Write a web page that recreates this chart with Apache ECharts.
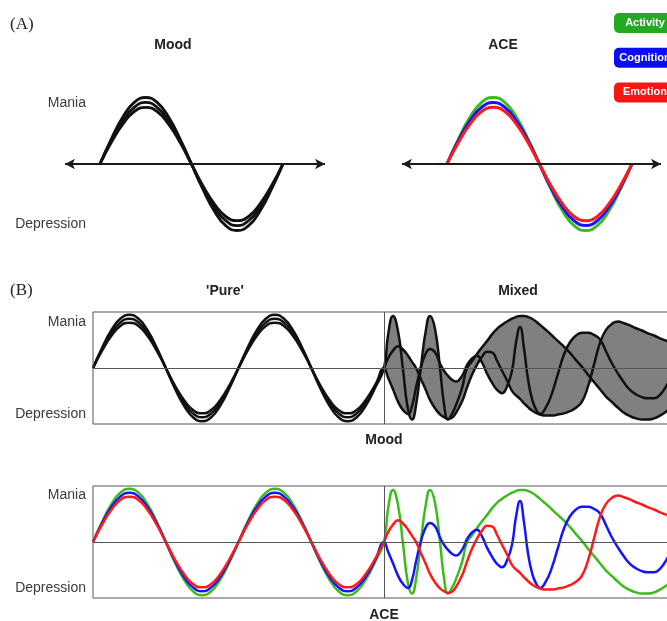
<!DOCTYPE html>
<html>
<head>
<meta charset="utf-8">
<script src="https://cdn.jsdelivr.net/npm/echarts@6/dist/echarts.min.js"></script>
<style>
  html, body { margin: 0; padding: 0; background: #fff; }
  #chart { width: 667px; height: 621px; }
</style>
</head>
<body>
<div id="chart"></div>
<script>
// one idealised cycle (panel A), in fractions of a period
const cycleX = [0, 0.0625, 0.125, 0.1875, 0.25, 0.3125, 0.375, 0.4375, 0.5, 0.5625, 0.625, 0.6875, 0.75, 0.8125, 0.875, 0.9375, 1]
const cycleActivity = [0, 0.36, 0.67, 0.88, 0.95, 0.88, 0.67, 0.36, 0, -0.36, -0.67, -0.88, -0.95, -0.88, -0.67, -0.36, 0]
const cycleCognition = [0, 0.34, 0.62, 0.81, 0.88, 0.81, 0.62, 0.34, 0, -0.34, -0.62, -0.81, -0.88, -0.81, -0.62, -0.34, 0]
const cycleEmotion = [0, 0.31, 0.57, 0.75, 0.81, 0.75, 0.57, 0.31, 0, -0.31, -0.57, -0.75, -0.81, -0.75, -0.57, -0.31, 0]

// panel B time axis: two 'pure' cycles then the mixed episode
const pureTime = [0, 9.1, 18.2, 27.3, 36.4, 45.5, 54.6, 63.7, 72.8, 81.8, 90.9, 100.0, 109.1, 118.2, 127.3, 136.4,
  145.5, 154.6, 163.7, 172.8, 181.9, 191.0, 200.1, 209.2, 218.3, 227.3, 236.4, 245.5, 254.6, 263.7, 272.8, 281.9]
const pureActivity = [0, 0.36, 0.67, 0.88, 0.95, 0.88, 0.67, 0.36, 0, -0.36, -0.67, -0.88, -0.95, -0.88, -0.67, -0.36,
  0, 0.36, 0.67, 0.88, 0.95, 0.88, 0.67, 0.36, 0, -0.36, -0.67, -0.88, -0.95, -0.88, -0.67, -0.36]
const pureCognition = [0, 0.34, 0.62, 0.81, 0.88, 0.81, 0.62, 0.34, 0, -0.34, -0.62, -0.81, -0.88, -0.81, -0.62, -0.34,
  0, 0.34, 0.62, 0.81, 0.88, 0.81, 0.62, 0.34, 0, -0.34, -0.62, -0.81, -0.88, -0.81, -0.62, -0.34]
const pureEmotion = [0, 0.31, 0.57, 0.75, 0.81, 0.75, 0.57, 0.31, 0, -0.31, -0.57, -0.75, -0.81, -0.75, -0.57, -0.31,
  0, 0.31, 0.57, 0.75, 0.81, 0.75, 0.57, 0.31, 0, -0.31, -0.57, -0.75, -0.81, -0.75, -0.57, -0.31]

const mixedTime = [291, 295, 300, 305, 310, 315, 319, 323, 328, 333, 337, 342, 347, 351, 355, 359, 363, 369, 374, 379,
  384, 389, 394, 399, 404, 409, 414, 419, 423, 427, 431, 435, 439, 443, 447, 453, 459, 465, 471, 477,
  483, 489, 495, 501, 507, 513, 519, 525, 531, 537, 543, 549, 555, 561, 567, 574, 582]
const mixedActivity = [0, 0.58, 0.93, 0.66, -0.03, -0.74, -0.92, -0.67, 0.03, 0.69, 0.93, 0.70, 0, -0.64, -0.92, -0.82, -0.66, -0.36, 0, 0.12,
  0.25, 0.37, 0.48, 0.60, 0.70, 0.77, 0.83, 0.88, 0.91, 0.93, 0.93, 0.91, 0.88, 0.83, 0.77, 0.68, 0.58, 0.48, 0.38, 0.27,
  0.14, 0.02, -0.12, -0.25, -0.38, -0.51, -0.61, -0.71, -0.80, -0.86, -0.90, -0.92, -0.92, -0.90, -0.85, -0.77, -0.66]
const mixedCognition = [0, -0.17, -0.38, -0.60, -0.75, -0.82, -0.68, -0.35, 0.02, 0.27, 0.34, 0.28, 0.08, -0.05, -0.14, -0.21, -0.24, -0.14, 0.05, 0.17,
  0.22, 0.10, -0.10, -0.26, -0.39, -0.45, -0.33, -0.05, 0.45, 0.73, 0.35, -0.20, -0.55, -0.74, -0.82, -0.70, -0.45, -0.10, 0.24, 0.46,
  0.58, 0.63, 0.63, 0.59, 0.51, 0.30, 0.08, -0.10, -0.26, -0.39, -0.47, -0.52, -0.54, -0.54, -0.48, -0.30, -0.05]
const mixedEmotion = [0, 0.17, 0.31, 0.39, 0.33, 0.22, 0.11, 0, -0.20, -0.40, -0.57, -0.72, -0.83, -0.88, -0.91, -0.89, -0.80, -0.60, -0.35, -0.12,
  0.06, 0.20, 0.29, 0.28, 0.13, -0.05, -0.22, -0.41, -0.49, -0.55, -0.63, -0.70, -0.76, -0.80, -0.83, -0.85, -0.85, -0.83, -0.81, -0.77,
  -0.71, -0.60, -0.33, 0.06, 0.45, 0.68, 0.79, 0.83, 0.80, 0.76, 0.71, 0.67, 0.62, 0.58, 0.53, 0.48, 0.42]

const yLabels = ['Depression', 'Mania']
const legendNames = ['Activity', 'Cognition', 'Emotion']
const colors = ['#3cbc1c', '#1414ff', '#ff1a1a']
const buttonColors = ['#22aa22', '#0c0cf2', '#f51616']

const time = pureTime.concat(mixedTime)
const activity = pureActivity.concat(mixedActivity)
const cognition = pureCognition.concat(mixedCognition)
const emotion = pureEmotion.concat(mixedEmotion)

const zip = (xs, ys) => xs.map((x, i) => [x, ys[i]])

// upper / lower envelope of the three curves during the mixed episode
const envHigh = mixedTime.map((t, i) => [t, Math.max(mixedActivity[i], mixedCognition[i], mixedEmotion[i])])
const envLow = mixedTime.map((t, i) => [t, Math.min(mixedActivity[i], mixedCognition[i], mixedEmotion[i])])

const font = '"Liberation Sans", Arial, sans-serif'

const arrowLine = {
  silent: true,
  symbol: ['arrow', 'arrow'],
  symbolSize: [8, 10],
  label: {show: false},
  lineStyle: {color: '#1a1a1a', width: 2, type: 'solid'},
  data: [{yAxis: 0}]
}
const boxLines = {
  silent: true,
  symbol: ['none', 'none'],
  label: {show: false},
  lineStyle: {color: '#555', width: 1, type: 'solid'},
  data: [{yAxis: 0}, {xAxis: 291}]
}

const yAxisFor = (gridIndex, pos, offset) => ({
  type: 'value', gridIndex, min: -1, max: 1, offset: offset || 0,
  axisLine: {show: false}, axisTick: {show: false}, splitLine: {show: false},
  axisLabel: {
    show: pos != null, margin: 7, color: '#3a3a3a', fontSize: 14, fontFamily: font,
    customValues: pos || [],
    formatter: v => v > 0 ? yLabels[1] : yLabels[0]
  }
})

const line = (xi, data, color, width, extra) => Object.assign({
  type: 'line', xAxisIndex: xi, yAxisIndex: xi, data, smooth: true, symbol: 'none',
  lineStyle: {color, width}, silent: true
}, extra || {})

const option = {
  animation: false,
  grid: [
    {left: 65, top: 94, width: 260, height: 140, outerBoundsMode: 'none'},
    {left: 402, top: 94, width: 259, height: 140, outerBoundsMode: 'none'},
    {left: 93, top: 312, width: 590, height: 112, show: true, borderColor: '#555', borderWidth: 1, z: 5, outerBoundsMode: 'none'},
    {left: 93, top: 486, width: 590, height: 112, show: true, borderColor: '#555', borderWidth: 1, z: 5, outerBoundsMode: 'none'}
  ],
  xAxis: [
    {type: 'value', gridIndex: 0, min: -0.191, max: 1.230, show: false},
    {type: 'value', gridIndex: 1, min: -0.243, max: 1.157, show: false},
    {type: 'value', gridIndex: 2, min: 0, max: 590, show: false},
    {type: 'value', gridIndex: 3, min: 0, max: 590, show: false}
  ],
  yAxis: [
    yAxisFor(0, [-0.86, 0.87], -28),
    yAxisFor(1, null),
    yAxisFor(2, [-0.82, 0.82]),
    yAxisFor(3, [-0.82, 0.84])
  ],
  graphic: [
    {type: 'text', style: {text: '(A)', x: 10, y: 25, verticalAlign: 'middle', font: '17px "Liberation Serif", serif', fill: '#222'}},
    {type: 'text', style: {text: 'Mood', x: 173, y: 45, align: 'center', verticalAlign: 'middle', font: 'bold 14px ' + font, fill: '#222'}},
    {type: 'text', style: {text: 'ACE', x: 503, y: 45, align: 'center', verticalAlign: 'middle', font: 'bold 14px ' + font, fill: '#222'}},
    {type: 'text', style: {text: '(B)', x: 10, y: 291, verticalAlign: 'middle', font: '17px "Liberation Serif", serif', fill: '#222'}},
    {type: 'text', style: {text: "'Pure'", x: 225, y: 291, align: 'center', verticalAlign: 'middle', font: 'bold 14px ' + font, fill: '#222'}},
    {type: 'text', style: {text: 'Mixed', x: 518, y: 291, align: 'center', verticalAlign: 'middle', font: 'bold 14px ' + font, fill: '#222'}},
    {type: 'text', style: {text: 'Mood', x: 384, y: 440, align: 'center', verticalAlign: 'middle', font: 'bold 14px ' + font, fill: '#222'}},
    {type: 'text', style: {text: 'ACE', x: 384, y: 615, align: 'center', verticalAlign: 'middle', font: 'bold 14px ' + font, fill: '#222'}}
  ].concat(legendNames.map((name, i) => ({
    type: 'group', left: 614, top: 13 + i * 34.7,
    children: [
      {type: 'rect', shape: {x: 0, y: 0, width: 62, height: 20, r: 5}, style: {fill: buttonColors[i]}},
      {type: 'text', style: {text: name, x: 31, y: 10, align: 'center', verticalAlign: 'middle', font: 'bold 11px ' + font, fill: '#fff'}}
    ]
  }))),
  series: [
    // A: mood
    line(0, zip(cycleX, cycleActivity), '#111', 2.8, {markLine: arrowLine}),
    line(0, zip(cycleX, cycleCognition), '#111', 2.8),
    line(0, zip(cycleX, cycleEmotion), '#111', 2.8),
    // A: ACE
    line(1, zip(cycleX, cycleActivity), colors[0], 3, {markLine: arrowLine}),
    line(1, zip(cycleX, cycleCognition), colors[1], 3),
    line(1, zip(cycleX, cycleEmotion), colors[2], 3),
    // B: mood, grey band = area under the upper envelope, masked white under the lower one
    line(2, envHigh, '#808080', 0, {lineStyle: {opacity: 0}, areaStyle: {color: '#808080', opacity: 1, origin: 'start'}}),
    line(2, envLow, '#fff', 0, {lineStyle: {opacity: 0}, areaStyle: {color: '#fff', opacity: 1, origin: 'start'}}),
    line(2, zip(time, activity), '#111', 2.5, {markLine: boxLines}),
    line(2, zip(time, cognition), '#111', 2.5),
    line(2, zip(time, emotion), '#111', 2.5),
    // B: ACE
    line(3, zip(time, activity), colors[0], 2.5, {markLine: boxLines}),
    line(3, zip(time, cognition), colors[1], 2.5),
    line(3, zip(time, emotion), colors[2], 2.5)
  ]
}

const chart = echarts.init(document.getElementById('chart'))
chart.setOption(option)
window.addEventListener('resize', function () {
  chart.resize()
})
</script>
</body>
</html>
